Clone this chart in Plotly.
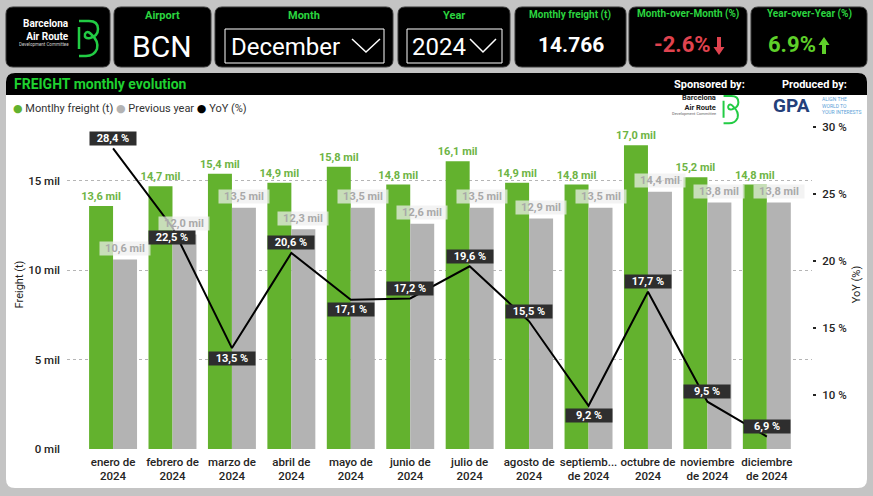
import plotly.graph_objects as go

# ---------------- data ----------------
month_labels = ["enero de<br>2024", "febrero de<br>2024", "marzo de<br>2024", "abril de<br>2024",
                "mayo de<br>2024", "junio de<br>2024", "julio de<br>2024", "agosto de<br>2024",
                "septiemb...<br>de 2024", "octubre de<br>2024", "noviembre<br>de 2024", "diciembre<br>de 2024"]
freight_k = [13.6, 14.7, 15.4, 14.9, 15.8, 14.8, 16.1, 14.9, 14.8, 17.0, 15.2, 14.8]
prev_year_k = [10.6, 12.0, 13.5, 12.3, 13.5, 12.6, 13.5, 12.9, 13.5, 14.4, 13.8, 13.8]
yoy_pct = [28.4, 22.5, 13.5, 20.6, 17.1, 17.2, 19.6, 15.5, 9.2, 17.7, 9.5, 6.9]
yoy_label_side = ["above", "below", "below", "above", "below", "above",
                  "above", "above", "below", "above", "above", "above"]
left_ticks = [0, 5, 10, 15]
left_tick_labels = ["0 mil", "5 mil", "10 mil", "15 mil"]
right_ticks = [10, 15, 20, 25, 30]
right_tick_labels = ["10 %", "15 %", "20 %", "25 %", "30 %"]

kpi_airport = "BCN"
kpi_month = "December"
kpi_year = "2024"
kpi_freight = "14.766"
kpi_mom = "-2.6%"
kpi_yoy = "6.9%"

# ---------------- style ----------------
FONT = "Roboto, 'DejaVu Sans', sans-serif"
GREEN = "#63b22e"
GREEN_TXT = "#6db444"
GREY = "#b3b3b3"
GREY_TXT = "#a9a9a9"
LABEL_GREEN = "#2bd43f"
BG = "#c4c4c4"

W, H = 873, 496
L, R, T, B = 67, 61, 120, 47
PW, PH = W - L - R, H - T - B


def X(x):
    return (x - L) / PW


def Y(y):
    return (H - B - y) / PH


def rrect(x0, y0, x1, y1, r, top=True, bottom=True):
    rt = r if top else 0
    rb = r if bottom else 0
    p = (f"M {X(x0):.5f},{Y(y0 + rt):.5f} Q {X(x0):.5f},{Y(y0):.5f} {X(x0 + rt):.5f},{Y(y0):.5f} "
         f"L {X(x1 - rt):.5f},{Y(y0):.5f} Q {X(x1):.5f},{Y(y0):.5f} {X(x1):.5f},{Y(y0 + rt):.5f} "
         f"L {X(x1):.5f},{Y(y1 - rb):.5f} Q {X(x1):.5f},{Y(y1):.5f} {X(x1 - rb):.5f},{Y(y1):.5f} "
         f"L {X(x0 + rb):.5f},{Y(y1):.5f} Q {X(x0):.5f},{Y(y1):.5f} {X(x0):.5f},{Y(y1 - rb):.5f} Z")
    return p


def poly(pts, close=True):
    s = "M " + " L ".join(f"{X(a):.5f},{Y(b):.5f}" for a, b in pts)
    return s + (" Z" if close else "")


def bpath(x0, y0, s):
    # stylised looping "B" of the Barcelona Air Route logo
    def P(a, b):
        return f"{X(x0 + a * s):.5f},{Y(y0 + b * s):.5f}"
    return (f"M {P(2, 0)} L {P(12, 0)} Q {P(21, 0)} {P(21, 8)} Q {P(21, 15)} {P(13, 17)} "
            f"Q {P(7, 18)} {P(8, 13)} Q {P(10, 9)} {P(14, 13)} Q {P(22, 20)} {P(20, 28)} "
            f"Q {P(17, 35)} {P(9, 35)} L {P(2, 35)} M {P(2, 6)} L {P(2, 28)}")


shapes = []
annots = []


def ann(x, y, text, size, color, bold=False, xanchor="center", yanchor="middle", **kw):
    annots.append(dict(x=X(x), y=Y(y), xref="paper", yref="paper", text=text, showarrow=False,
                       xanchor=xanchor, yanchor=yanchor,
                       font=dict(family=FONT, size=size, color=color,
                                 weight="bold" if bold else "normal"), **kw))


# panel + title bar
shapes.append(dict(type="path", path=rrect(6, 73, 867, 488, 9), fillcolor="white",
                   line=dict(width=0), layer="below", xref="paper", yref="paper"))
shapes.append(dict(type="path", path=rrect(6, 73, 867, 95, 9, bottom=False), fillcolor="black",
                   line=dict(width=0), layer="below", xref="paper", yref="paper"))

# header cards
cards = [(6, 110), (114, 211), (215, 393), (398, 510), (515, 626), (629, 747), (751, 867)]
for a, b in cards:
    shapes.append(dict(type="path", path=rrect(a, 7, b, 67, 7), fillcolor="black",
                       line=dict(width=1, color="#3a3a3a"), xref="paper", yref="paper"))

# logo card
ann(71, 30, "Barcelona<br>Air Route", 10, "white", bold=True, xanchor="right", align="right")
ann(71, 44, "Development Committee", 4.5, "#cfcfcf", xanchor="right")
shapes.append(dict(type="path", path=bpath(77, 21, 1.0), line=dict(color="#22cc44", width=2.5),
                   xref="paper", yref="paper"))

# Airport
ann(162, 16, "Airport", 11, LABEL_GREEN, bold=True)
ann(162, 46, kpi_airport, 30, "white")
# Month
ann(304, 16, "Month", 11, LABEL_GREEN, bold=True)
shapes.append(dict(type="rect", x0=X(225), x1=X(384), y0=Y(29), y1=Y(63), xref="paper", yref="paper",
                   line=dict(color="white", width=1)))
ann(229, 47, kpi_month, 24, "white", xanchor="left")
shapes.append(dict(type="path", path=poly([(352, 39), (366, 52), (380, 39)], close=False),
                   line=dict(color="white", width=1.5), xref="paper", yref="paper"))
# Year
ann(454, 16, "Year", 11, LABEL_GREEN, bold=True)
shapes.append(dict(type="rect", x0=X(407), x1=X(502), y0=Y(29), y1=Y(63), xref="paper", yref="paper",
                   line=dict(color="white", width=1)))
ann(410, 47, kpi_year, 24, "white", xanchor="left")
shapes.append(dict(type="path", path=poly([(470, 39), (483, 52), (496, 39)], close=False),
                   line=dict(color="white", width=1.5), xref="paper", yref="paper"))
# Monthly freight
ann(570, 15, "Monthly freight (t)", 10, LABEL_GREEN, bold=True)
ann(571, 45, kpi_freight, 21, "white", bold=True)
# MoM
ann(688, 14, "Month-over-Month (%)", 10, LABEL_GREEN, bold=True)
ann(713, 45, kpi_mom, 22, "#e0434f", bold=True, xanchor="right")
shapes.append(dict(type="path", path=poly([(717, 37), (721, 37), (721, 47), (724.5, 47), (719, 55),
                                           (713.5, 47), (717, 47)]),
                   fillcolor="#e0434f", line=dict(width=0), xref="paper", yref="paper"))
# YoY
ann(809, 14, "Year-over-Year (%)", 10, LABEL_GREEN, bold=True)
ann(818, 45, kpi_yoy, 22, "#5fd02a", bold=True, xanchor="right")
shapes.append(dict(type="path", path=poly([(822, 54), (826, 54), (826, 45), (829.5, 45), (824, 37),
                                           (818.5, 45), (822, 45)]),
                   fillcolor="#5fd02a", line=dict(width=0), xref="paper", yref="paper"))

# title bar texts
ann(12, 84, "FREIGHT monthly evolution", 14, "#1fd130", bold=True, xanchor="left")
ann(709, 84, "Sponsored by:", 11, "white", bold=True)
ann(814, 84, "Produced by:", 11, "white", bold=True)

# sponsor logo
ann(718, 103, "Barcelona<br>Air Route", 7.5, "#222", bold=True, xanchor="right", align="right")
ann(718, 114, "Development Committee", 4, "#666", xanchor="right")
shapes.append(dict(type="path", path=bpath(722, 96, 0.78), line=dict(color="#22cc44", width=2),
                   xref="paper", yref="paper"))
# producer logo
ann(791, 106, "GPA", 19, "#24407a", bold=True)
ann(820, 106, "ALIGN THE<br>WORLD TO<br>YOUR INTERESTS", 5, "#5b9fd8", xanchor="left", align="left")

# legend (Power BI style)
legend_txt = (f"<span style='color:{GREEN}'>●</span> Montlhy freight (t) "
              f"<span style='color:{GREY}'>●</span> Previous year "
              f"<span style='color:black'>●</span> YoY (%)")
ann(11, 108, legend_txt, 11, "#333", xanchor="left")

# ---------------- traces ----------------
idx = list(range(len(month_labels)))


def fmt(v, suffix):
    return f"{v:.1f}".replace(".", ",") + suffix


fig = go.Figure()
fig.add_trace(go.Bar(x=idx, y=freight_k, name="Montlhy freight (t)", marker=dict(color=GREEN, line=dict(width=0)),
                     text=[fmt(v, " mil") for v in freight_k], textposition="outside", constraintext="none",
                     textfont=dict(family=FONT, size=11, color=GREEN_TXT, weight="bold"),
                     cliponaxis=False, showlegend=False, hoverinfo="skip"))
fig.add_trace(go.Bar(x=idx, y=prev_year_k, name="Previous year", marker=dict(color=GREY, line=dict(width=0)),
                     showlegend=False, hoverinfo="skip"))
fig.add_trace(go.Scatter(x=idx, y=yoy_pct, yaxis="y2", mode="lines", name="YoY (%)",
                         line=dict(color="black", width=2), showlegend=False, hoverinfo="skip",
                         cliponaxis=False))

# grey bar labels
for i, v in zip(idx, prev_year_k):
    annots.append(dict(x=i, y=v, xref="x", yref="y", text=fmt(v, " mil"), showarrow=False,
                       xshift=12, yshift=11, bgcolor="rgba(238,238,238,0.72)", borderpad=0,
                       width=50, height=13,
                       font=dict(family=FONT, size=11, color=GREY_TXT, weight="bold")))
# YoY labels
for i, v, side in zip(idx, yoy_pct, yoy_label_side):
    annots.append(dict(x=i, y=v, xref="x", yref="y2", text=fmt(v, " %"), showarrow=False,
                       yshift=10 if side == "above" else -10, bgcolor="#2e2e2e", borderpad=0,
                       width=46, height=13,
                       font=dict(family=FONT, size=11, color="white", weight="bold")))

fig.update_layout(
    width=W, height=H,
    margin=dict(l=L, r=R, t=T, b=B, pad=0),
    paper_bgcolor=BG, plot_bgcolor="rgba(0,0,0,0)",
    barmode="group", bargap=0.193, bargroupgap=0,
    font=dict(family=FONT, size=11, color="#252423"),
    shapes=shapes, annotations=annots, showlegend=False,
    xaxis=dict(range=[-0.775, 11.76], tickvals=idx, ticktext=month_labels, showgrid=False,
               zeroline=False, showline=False, ticks="", fixedrange=True, ticklabelstandoff=4,
               tickfont=dict(family=FONT, size=11.5, color="#252423", weight=500)),
    yaxis=dict(range=[0, 18.41], tickvals=left_ticks, ticktext=left_tick_labels, showgrid=True,
               gridcolor="#b5b5b5", griddash="dot", gridwidth=1, zeroline=False, showline=False,
               ticks="", ticklabelstandoff=6,
               tickfont=dict(family=FONT, size=11.5, color="#252423", weight=500),
               title=dict(text="Freight (t)", standoff=2, font=dict(family=FONT, size=11, color="#252423")),
               automargin=False),
    yaxis2=dict(range=[5.97, 30.52], overlaying="y", side="right", tickvals=right_ticks,
                ticktext=right_tick_labels, showgrid=False, zeroline=False, showline=False,
                ticks="outside", ticklen=3, tickwidth=2, tickcolor="#252423", ticklabelstandoff=4,
                tickfont=dict(family=FONT, size=11.5, color="#252423", weight=500),
                title=dict(text="YoY (%)", standoff=6, font=dict(family=FONT, size=11, color="#252423")),
                automargin=False),
)

fig.write_html("out.html", config={"displayModeBar": False},
               post_script="document.body.style.margin='0';document.body.style.overflow='hidden';")
